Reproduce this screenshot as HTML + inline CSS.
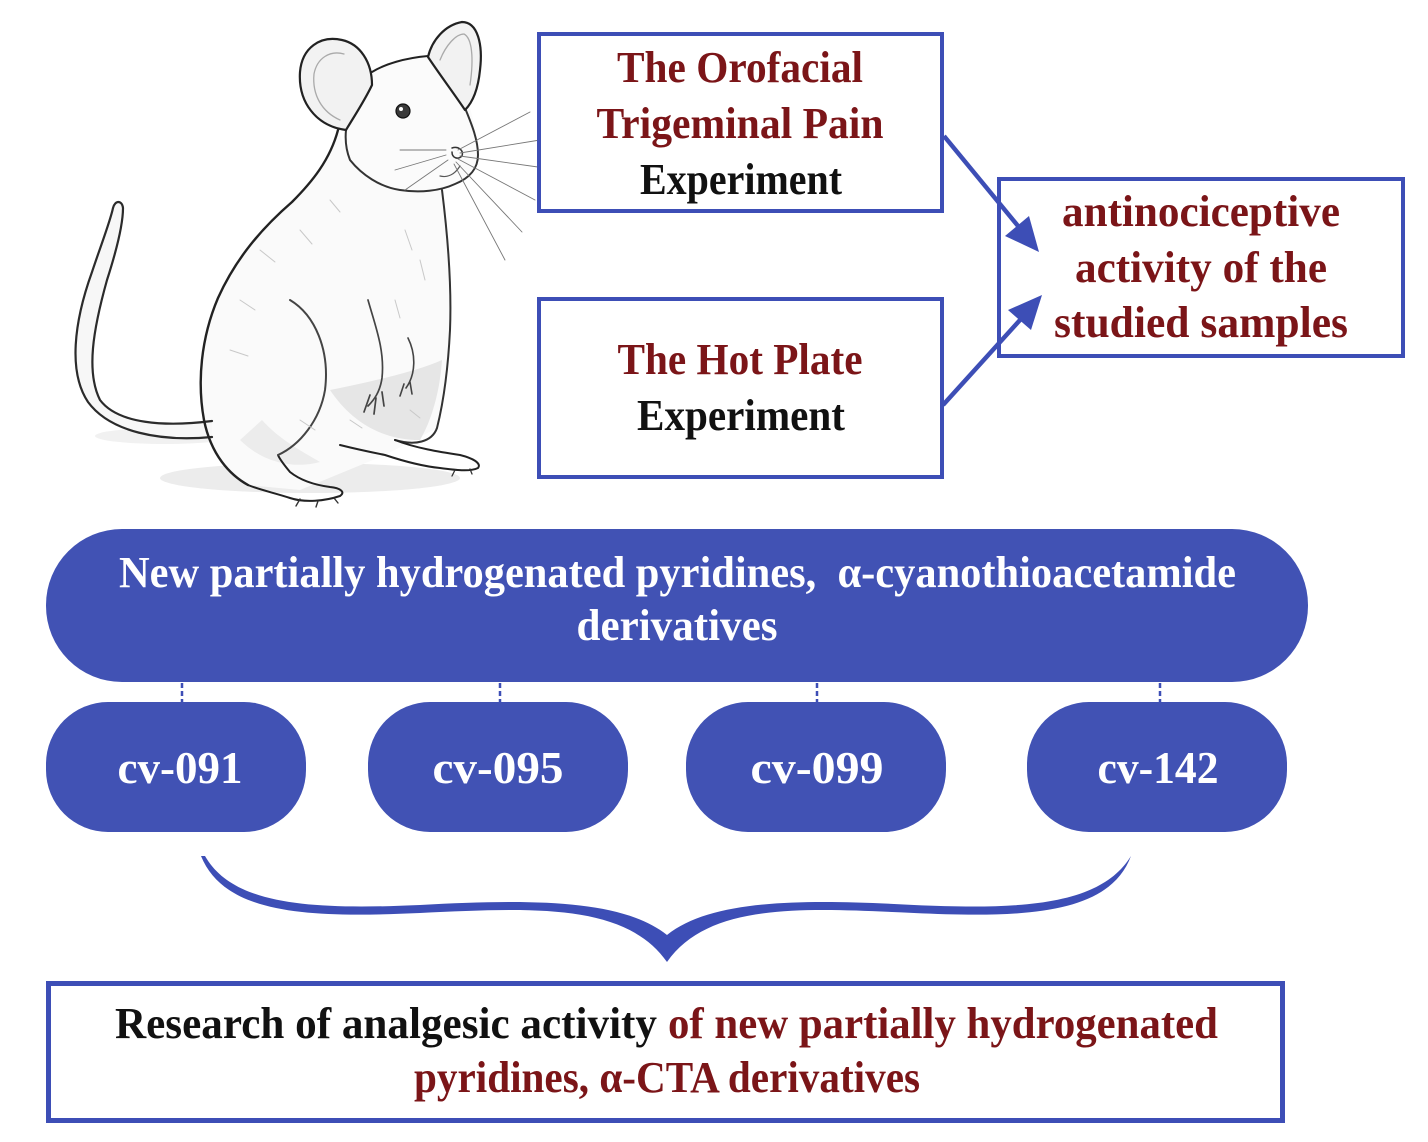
<!DOCTYPE html>
<html>
<head>
<meta charset="utf-8">
<style>
  html, body { margin: 0; padding: 0; background: #ffffff; }
  body { width: 1428px; height: 1142px; overflow: hidden; }
  svg { display: block; }
  .t { font-family: "Liberation Serif", "DejaVu Serif", serif; font-weight: bold; }
</style>
</head>
<body>
<svg width="1428" height="1142" viewBox="0 0 1428 1142" xmlns="http://www.w3.org/2000/svg">
  <rect x="0" y="0" width="1428" height="1142" fill="#ffffff"/>

  <!-- ===== Rat sketch ===== -->
  <g fill="none" stroke-linecap="round" stroke-linejoin="round">
    <!-- ground shadow -->
    <ellipse cx="310" cy="478" rx="150" ry="15" fill="#ececec" stroke="none"/>
    <ellipse cx="165" cy="436" rx="70" ry="8" fill="#f1f1f1" stroke="none"/>
    <!-- body fill -->
    <path d="M338,130 C330,160 312,182 292,202 C262,228 236,258 218,298 C201,338 197,382 204,420 C211,455 230,475 248,485 L300,490 L385,455 L437,428 C444,400 448,370 450,330 C452,280 447,230 442,190 C420,192 380,187 350,160 Z" fill="#fafafa" stroke="none"/>
    <!-- belly shading -->
    <path d="M330,390 C350,420 380,440 420,440 C432,420 440,390 442,360 C420,370 380,380 330,390 Z" fill="#e6e6e6" stroke="none"/>
    <path d="M240,440 C260,460 290,470 320,462 C300,450 280,440 262,420 Z" fill="#ececec" stroke="none"/>
    <!-- tail -->
    <path d="M212,437 C160,442 110,432 88,402 C68,372 74,322 92,272 C102,242 110,222 113,208 C115,200 122,200 123,208 C123,226 116,252 107,280 C93,330 86,372 100,400 C118,424 165,427 212,421" fill="#f7f7f7" stroke="#2b2b2b" stroke-width="2.2"/>
    <!-- back outline -->
    <path d="M338,130 C330,160 312,182 292,202 C262,228 236,258 218,298 C201,338 197,382 204,420 C211,455 230,475 248,485" stroke="#222" stroke-width="2.4"/>
    <!-- hind foot -->
    <path d="M248,485 C260,490 275,493 290,498 C305,503 325,501 340,496 C346,492 340,488 330,487 C315,485 300,480 290,472 C285,466 280,460 278,455" stroke="#222" stroke-width="2"/>
    <path d="M300,499 L296,506 M318,501 L316,507 M334,498 L338,503" stroke="#333" stroke-width="1.4"/>
    <!-- thigh -->
    <path d="M290,300 C315,315 330,350 325,390 C320,420 300,445 278,455" stroke="#444" stroke-width="2"/>
    <!-- chest / belly -->
    <path d="M442,190 C447,230 452,280 450,330 C448,370 444,400 437,428 C432,442 415,446 395,440" stroke="#333" stroke-width="2"/>
    <!-- right (front) foot -->
    <path d="M395,440 C415,448 440,452 460,455 C472,458 482,463 478,468 C470,472 455,470 440,468 C420,466 400,460 385,455 C370,452 352,448 340,445" stroke="#222" stroke-width="2"/>
    <path d="M455,470 L452,476 M470,469 L472,474" stroke="#333" stroke-width="1.3"/>
    <!-- front arms -->
    <path d="M368,300 C375,325 385,350 382,378 C380,392 374,400 368,406 M370,395 L364,412 M376,398 L374,414 M382,392 L384,406" stroke="#444" stroke-width="1.7"/>
    <path d="M408,338 C416,354 416,374 406,388 M404,384 L400,396 M410,382 L412,394" stroke="#444" stroke-width="1.6"/>
    <!-- head fill -->
    <path d="M345,130 C345,100 360,78 385,66 C405,58 425,56 440,60 C460,75 472,100 478,150 C478,170 468,180 455,185 C430,194 395,192 372,182 C355,172 345,155 345,130 Z" fill="#fbfbfb" stroke="none"/>
    <!-- head outline -->
    <path d="M372,72 C385,64 405,58 428,56" stroke="#222" stroke-width="2"/>
    <path d="M465,108 C472,125 478,140 478,155 C478,168 470,178 455,184 C440,191 420,193 400,190 C380,187 362,175 350,160 C346,150 345,140 346,130" stroke="#333" stroke-width="2"/>
    <!-- ears -->
    <path d="M346,130 C316,126 298,102 300,72 C302,48 320,35 342,40 C360,44 372,62 372,85 C365,100 355,115 346,130 Z" fill="#f2f2f2" stroke="#222" stroke-width="2.2"/>
    <path d="M340,120 C322,112 312,95 314,74 C317,58 330,50 344,54" stroke="#aaa" stroke-width="1.3"/>
    <path d="M428,57 C432,40 445,25 462,22 C478,22 483,45 480,70 C478,90 472,103 465,110 C455,95 440,75 428,57 Z" fill="#f2f2f2" stroke="#222" stroke-width="2.2"/>
    <path d="M440,60 C446,45 456,34 464,34 C472,38 474,58 470,85" stroke="#aaa" stroke-width="1.3"/>
    <!-- eye -->
    <circle cx="403" cy="111" r="7" fill="#3a3a3a" stroke="#111" stroke-width="1.2"/>
    <circle cx="401" cy="109" r="2" fill="#ffffff" stroke="none"/>
    <!-- nose -->
    <path d="M452,148 C458,146 464,150 462,156 C458,160 452,158 452,152" stroke="#333" stroke-width="1.5"/>
    <path d="M440,176 C448,178 455,174 460,166" stroke="#555" stroke-width="1.2"/>
    <!-- whiskers -->
    <path d="M458,150 L530,112 M460,153 L540,140 M460,156 L545,168 M458,159 L535,200 M456,162 L522,232 M454,164 L505,260 M446,150 L400,150 M446,155 L395,170 M448,160 L405,190" stroke="#777" stroke-width="0.9"/>
    <!-- fur hatching -->
    <path d="M260,250 L275,262 M240,300 L255,310 M230,350 L248,356 M300,230 L312,244 M330,200 L340,212 M405,230 L412,250 M420,260 L425,280 M395,300 L400,318 M300,420 L315,430 M350,420 L362,428 M410,410 L420,418" stroke="#c8c8c8" stroke-width="1"/>
  </g>

  <!-- ===== Top right boxes ===== -->
  <rect x="539" y="34" width="403" height="177" fill="#ffffff" stroke="#3d4eb6" stroke-width="4"/>
  <rect x="539" y="299" width="403" height="178" fill="#ffffff" stroke="#3d4eb6" stroke-width="4"/>
  <rect x="999" y="179" width="404" height="177" fill="#ffffff" stroke="#3d4eb6" stroke-width="4"/>

  <text class="t" x="740" y="82" font-size="44" fill="#7b1518" text-anchor="middle" textLength="246" lengthAdjust="spacingAndGlyphs">The Orofacial</text>
  <text class="t" x="740" y="138" font-size="44" fill="#7b1518" text-anchor="middle" textLength="287" lengthAdjust="spacingAndGlyphs">Trigeminal Pain</text>
  <text class="t" x="741" y="194" font-size="44" fill="#111111" text-anchor="middle" textLength="202" lengthAdjust="spacingAndGlyphs">Experiment</text>

  <text class="t" x="740" y="374" font-size="44" fill="#7b1518" text-anchor="middle" textLength="245" lengthAdjust="spacingAndGlyphs">The Hot Plate</text>
  <text class="t" x="741" y="430" font-size="44" fill="#111111" text-anchor="middle" textLength="208" lengthAdjust="spacingAndGlyphs">Experiment</text>

  <text class="t" x="1201" y="226" font-size="44" fill="#7b1518" text-anchor="middle" textLength="278" lengthAdjust="spacingAndGlyphs">antinociceptive</text>
  <text class="t" x="1201" y="282" font-size="44" fill="#7b1518" text-anchor="middle" textLength="252" lengthAdjust="spacingAndGlyphs">activity of the</text>
  <text class="t" x="1201" y="337" font-size="44" fill="#7b1518" text-anchor="middle" textLength="294" lengthAdjust="spacingAndGlyphs">studied samples</text>

  <!-- arrows -->
  <line x1="944" y1="136" x2="1018" y2="226" stroke="#3d4eb6" stroke-width="4.5"/>
  <polygon points="1039,252 1005,236 1029,216" fill="#3d4eb6"/>
  <line x1="943" y1="405" x2="1020" y2="320" stroke="#3d4eb6" stroke-width="4.5"/>
  <polygon points="1042,295 1031,330 1008,310" fill="#3d4eb6"/>

  <!-- ===== Big pill ===== -->
  <rect x="46" y="529" width="1262" height="153" rx="76" ry="76" fill="#4152b4"/>
  <text class="t" x="119" y="587" font-size="44" fill="#ffffff" textLength="1117" lengthAdjust="spacingAndGlyphs">New partially hydrogenated pyridines,&#160; α-cyanothioacetamide</text>
  <text class="t" x="677" y="640" font-size="44" fill="#ffffff" text-anchor="middle" textLength="201" lengthAdjust="spacingAndGlyphs">derivatives</text>

  <!-- dashed connectors -->
  <g stroke="#3d4eb6" stroke-width="2.5" stroke-dasharray="5,3">
    <line x1="182" y1="683" x2="182" y2="702"/>
    <line x1="500" y1="683" x2="500" y2="702"/>
    <line x1="817" y1="683" x2="817" y2="702"/>
    <line x1="1160" y1="683" x2="1160" y2="702"/>
  </g>

  <!-- ===== Small pills ===== -->
  <rect x="46" y="702" width="260" height="130" rx="62" ry="62" fill="#4152b4"/>
  <rect x="368" y="702" width="260" height="130" rx="62" ry="62" fill="#4152b4"/>
  <rect x="686" y="702" width="260" height="130" rx="62" ry="62" fill="#4152b4"/>
  <rect x="1027" y="702" width="260" height="130" rx="62" ry="62" fill="#4152b4"/>

  <text class="t" x="180" y="783" font-size="46" fill="#ffffff" text-anchor="middle" textLength="125" lengthAdjust="spacingAndGlyphs">cv-091</text>
  <text class="t" x="498" y="783" font-size="46" fill="#ffffff" text-anchor="middle" textLength="131" lengthAdjust="spacingAndGlyphs">cv-095</text>
  <text class="t" x="817" y="783" font-size="46" fill="#ffffff" text-anchor="middle" textLength="133" lengthAdjust="spacingAndGlyphs">cv-099</text>
  <text class="t" x="1158" y="783" font-size="46" fill="#ffffff" text-anchor="middle" textLength="121" lengthAdjust="spacingAndGlyphs">cv-142</text>

  <!-- ===== Brace ===== -->
  <path d="M201,856 C225,915 310,918 420,913 C530,908 625,902 667,962
           C709,902 804,908 914,913 C1024,918 1109,915 1131,856
           C1101,905 1024,910 914,905 C804,899 712,899 667,935
           C622,899 530,899 420,905 C310,910 233,905 205,856 Z" fill="#3d4eb6"/>

  <!-- ===== Bottom box ===== -->
  <rect x="48.5" y="983.5" width="1234" height="137" fill="#ffffff" stroke="#3d4eb6" stroke-width="5"/>
  <text class="t" x="115" y="1038" font-size="44" fill="#111111" textLength="542" lengthAdjust="spacingAndGlyphs">Research of analgesic activity</text>
  <text class="t" x="668" y="1038" font-size="44" fill="#7b1518" textLength="550" lengthAdjust="spacingAndGlyphs">of new partially hydrogenated</text>
  <text class="t" x="414" y="1092" font-size="44" fill="#7b1518" textLength="506" lengthAdjust="spacingAndGlyphs">pyridines, α-CTA derivatives</text>
</svg>
</body>
</html>
